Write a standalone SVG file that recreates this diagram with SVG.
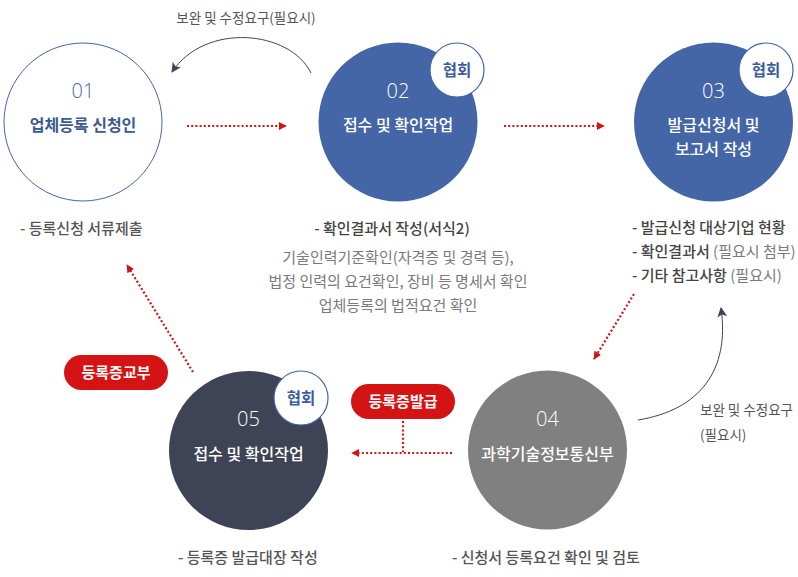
<svg xmlns="http://www.w3.org/2000/svg" width="798" height="577" viewBox="0 0 798 577">
<defs>
<style>
text{font-family:"Noto Sans CJK KR","Noto Sans",sans-serif}
.num{font-family:"Open Sans","Noto Sans",sans-serif;font-weight:300;font-size:20px;text-anchor:middle}
.title{font-size:16px;font-weight:500;text-anchor:middle;fill:#fff}
.badge circle{fill:#fff;stroke:#4466a7;stroke-width:1.2}
.badge text{font-size:15.5px;font-weight:700;fill:#3d5c9c;text-anchor:middle}
.desc{font-size:15px;font-weight:500;fill:#555}
.sub{font-size:15px;font-weight:400;fill:#7a7a7a}
.note{font-size:13.5px;fill:#555}
.dot{fill:none;stroke:#d01515;stroke-width:2.2;stroke-dasharray:2 2.2}
.curve{fill:none;stroke:#3e4456;stroke-width:1}
.pill rect{fill:#d41414}
.pill text{font-size:15px;font-weight:700;fill:#fff;text-anchor:middle}
</style>
<marker id="ra" viewBox="0 0 10 10" refX="9" refY="5" markerWidth="8" markerHeight="8" markerUnits="userSpaceOnUse" orient="auto"><path d="M0,0 L10,5 L0,10 z" fill="#d01515"/></marker>
<marker id="da" viewBox="0 0 10 10" refX="9" refY="5" markerWidth="10" markerHeight="10" markerUnits="userSpaceOnUse" orient="auto"><path d="M0,0 L10,5 L0,10 L2.5,5 z" fill="#3e4456"/></marker>
</defs>
<rect width="798" height="577" fill="#fff"/>

<g id="connectors">
<path class="dot" d="M187,126 H286" marker-end="url(#ra)"/>
<path class="dot" d="M504,126 H604" marker-end="url(#ra)"/>
<path class="dot" d="M634,294 L594,359" marker-end="url(#ra)"/>
<path class="dot" d="M452,453 H352" marker-end="url(#ra)"/>
<path class="dot" d="M403,421 V452"/>
<path class="dot" d="M193,372 L127,265" marker-end="url(#ra)"/>
<path class="curve" d="M311,73 C290,30 205,22 172,72" marker-end="url(#da)"/>
<path class="curve" d="M638,420 C700,410 730,370 721,308" marker-end="url(#da)"/>
</g>

<g id="node01">
<circle cx="83" cy="122" r="79" fill="#fff" stroke="#4466a7" stroke-width="1"/>
<text class="num" x="83" y="98" fill="#4466a7">01</text>
<text class="title" x="83" y="131" style="fill:#3d5a8e;font-weight:700">업체등록 신청인</text>
</g>

<g id="node02">
<circle cx="398" cy="122" r="79.5" fill="#4466a7"/>
<text class="num" x="398" y="98" fill="#fff">02</text>
<text class="title" x="398" y="131">접수 및 확인작업</text>
<g class="badge"><circle cx="457" cy="70" r="27"/><text x="457" y="76">협회</text></g>
</g>

<g id="node03">
<circle cx="713.5" cy="122" r="79.5" fill="#4466a7"/>
<text class="num" x="713.5" y="98" fill="#fff">03</text>
<text class="title" x="713.5" y="131">발급신청서 및</text>
<text class="title" x="713.5" y="155">보고서 작성</text>
<g class="badge"><circle cx="766" cy="70" r="27"/><text x="766" y="76">협회</text></g>
</g>

<g id="node04">
<circle cx="547.5" cy="450" r="79.5" fill="#808080"/>
<text class="num" x="547.5" y="426" fill="#fff">04</text>
<text class="title" x="547.5" y="460">과학기술정보통신부</text>
</g>

<g id="node05">
<circle cx="248.5" cy="450.5" r="79.5" fill="#3e4456"/>
<text class="num" x="248.5" y="426" fill="#fff">05</text>
<text class="title" x="248.5" y="460">접수 및 확인작업</text>
<g class="badge"><circle cx="301" cy="398" r="27"/><text x="301" y="404">협회</text></g>
</g>

<g id="pill1" class="pill"><rect x="64" y="355" width="104" height="35" rx="17.5"/><text x="116" y="378">등록증교부</text></g>
<g id="pill2" class="pill"><rect x="351" y="384" width="104" height="35" rx="17.5"/><text x="403" y="407">등록증발급</text></g>

<g id="labels">
<text class="note" x="246" y="23" text-anchor="middle">보완 및 수정요구(필요시)</text>
<text class="note" x="700" y="415">보완 및 수정요구</text>
<text class="note" x="700" y="440">(필요시)</text>
<text class="desc" x="20" y="234">- 등록신청 서류제출</text>
<text class="desc" x="392" y="234" text-anchor="middle" style="fill:#444">- 확인결과서 작성(서식2)</text>
<text class="sub" x="398" y="263" text-anchor="middle">기술인력기준확인(자격증 및 경력 등),</text>
<text class="sub" x="398" y="287" text-anchor="middle">법정 인력의 요건확인, 장비 등 명세서 확인</text>
<text class="sub" x="398" y="311" text-anchor="middle">업체등록의 법적요건 확인</text>
<text class="desc" x="632" y="233" style="fill:#444">- 발급신청 대상기업 현황</text>
<text class="desc" x="632" y="257" style="fill:#444">- 확인결과서 <tspan style="font-weight:400;fill:#7a7a7a">(필요시 첨부)</tspan></text>
<text class="desc" x="632" y="281" style="fill:#444">- 기타 참고사항 <tspan style="font-weight:400;fill:#7a7a7a">(필요시)</tspan></text>
<text class="desc" x="178" y="563">- 등록증 발급대장 작성</text>
<text class="desc" x="452" y="563">- 신청서 등록요건 확인 및 검토</text>
</g>
</svg>
